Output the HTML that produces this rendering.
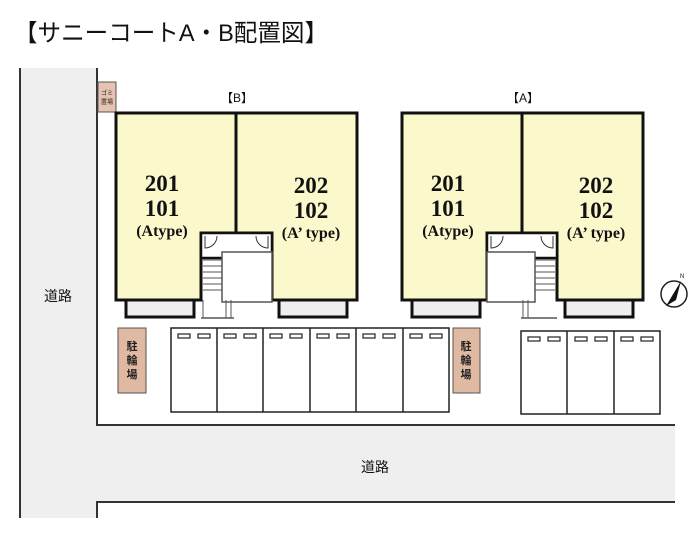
<!DOCTYPE html>
<html><head><meta charset="utf-8"><style>
html,body{margin:0;padding:0;background:#fff;}
svg{display:block;}
</style></head><body>
<svg width="700" height="540" viewBox="0 0 700 540" xmlns="http://www.w3.org/2000/svg" font-family="'Liberation Sans','Noto Sans CJK JP',sans-serif">
<text x="14" y="41" font-size="24" textLength="314" lengthAdjust="spacingAndGlyphs" fill="#111">【サニーコートA・B配置図】</text>
<rect x="20" y="68" width="77" height="450" fill="#efefef"/>
<rect x="97" y="425" width="578" height="77" fill="#efefef"/>
<g stroke="#333" stroke-width="2" fill="none">
<line x1="20" y1="68" x2="20" y2="518"/>
<line x1="97" y1="68" x2="97" y2="426"/>
<line x1="97" y1="501" x2="97" y2="518"/>
<line x1="96" y1="425" x2="675" y2="425"/>
<line x1="96" y1="502" x2="675" y2="502"/>
</g>
<text x="58" y="301" font-size="14" text-anchor="middle" fill="#111">道路</text>
<text x="375" y="472" font-size="14" text-anchor="middle" fill="#111">道路</text>
<rect x="98" y="82" width="18" height="30" fill="#e6c3b0" stroke="#555" stroke-width="1"/>
<text x="107" y="95" font-size="6" text-anchor="middle" fill="#222">ゴミ</text>
<text x="107" y="104" font-size="6" text-anchor="middle" fill="#222">置場</text>
<text x="237" y="102" font-size="12" text-anchor="middle" fill="#111">【B】</text>
<text x="523" y="102" font-size="12" text-anchor="middle" fill="#111">【A】</text>

<g>
<path d="M116,113 H236 V233 H201 V300 H116 Z" fill="#fbf9cc" stroke="#111" stroke-width="3"/>
<path d="M236,113 H357 V300 H272 V233 H236 Z" fill="#fbf9cc" stroke="#111" stroke-width="3"/>
<rect x="126" y="300" width="68" height="17" fill="#eee" stroke="#111" stroke-width="3"/>
<rect x="279" y="300" width="68" height="17" fill="#eee" stroke="#111" stroke-width="3"/>
<rect x="201" y="233" width="71" height="25" fill="#fff" stroke="#111" stroke-width="2.5"/>
<path d="M205,236 v12 a12,12 0 0 0 12,-12" fill="none" stroke="#333" stroke-width="1"/>
<path d="M268,236 v12 a12,12 0 0 1 -12,-12" fill="none" stroke="#333" stroke-width="1"/>
<rect x="222" y="252" width="50" height="50" fill="#fff" stroke="#555" stroke-width="1.5"/>
<g stroke="#555" stroke-width="1">
<line x1="203" y1="260" x2="222" y2="260"/><line x1="203" y1="266" x2="222" y2="266"/>
<line x1="203" y1="272" x2="222" y2="272"/><line x1="203" y1="278" x2="222" y2="278"/>
<line x1="203" y1="284" x2="222" y2="284"/><line x1="203" y1="290" x2="222" y2="290"/>
<line x1="201" y1="318" x2="234" y2="318" stroke-width="1.5"/>
<line x1="203" y1="300" x2="203" y2="318"/><line x1="226" y1="300" x2="226" y2="318"/><line x1="231" y1="300" x2="231" y2="318"/>
</g>
<g font-family="'Liberation Serif',serif" font-weight="bold" fill="#111" text-anchor="middle">
<text x="162" y="191" font-size="23">201</text>
<text x="162" y="216" font-size="23">101</text>
<text x="162" y="236" font-size="16">(Atype)</text>
<text x="311" y="193" font-size="23">202</text>
<text x="311" y="218" font-size="23">102</text>
<text x="311" y="238" font-size="16">(A’ type)</text>
</g>
</g>

<g>
<path d="M402,113 H522 V233 H487 V300 H402 Z" fill="#fbf9cc" stroke="#111" stroke-width="3"/>
<path d="M522,113 H643 V300 H557 V233 H522 Z" fill="#fbf9cc" stroke="#111" stroke-width="3"/>
<rect x="412" y="300" width="68" height="17" fill="#eee" stroke="#111" stroke-width="3"/>
<rect x="565" y="300" width="68" height="17" fill="#eee" stroke="#111" stroke-width="3"/>
<rect x="487" y="233" width="70" height="25" fill="#fff" stroke="#111" stroke-width="2.5"/>
<path d="M491,236 v12 a12,12 0 0 0 12,-12" fill="none" stroke="#333" stroke-width="1"/>
<path d="M553,236 v12 a12,12 0 0 1 -12,-12" fill="none" stroke="#333" stroke-width="1"/>
<rect x="487" y="252" width="48" height="50" fill="#fff" stroke="#555" stroke-width="1.5"/>
<g stroke="#555" stroke-width="1">
<line x1="535" y1="260" x2="555" y2="260"/><line x1="535" y1="266" x2="555" y2="266"/>
<line x1="535" y1="272" x2="555" y2="272"/><line x1="535" y1="278" x2="555" y2="278"/>
<line x1="535" y1="284" x2="555" y2="284"/><line x1="535" y1="290" x2="555" y2="290"/>
<line x1="521" y1="318" x2="557" y2="318" stroke-width="1.5"/>
<line x1="523" y1="300" x2="523" y2="318"/><line x1="528" y1="300" x2="528" y2="318"/>
</g>
<g font-family="'Liberation Serif',serif" font-weight="bold" fill="#111" text-anchor="middle">
<text x="448" y="191" font-size="23">201</text>
<text x="448" y="216" font-size="23">101</text>
<text x="448" y="236" font-size="16">(Atype)</text>
<text x="596" y="193" font-size="23">202</text>
<text x="596" y="218" font-size="23">102</text>
<text x="596" y="238" font-size="16">(A’ type)</text>
</g>
</g>

<circle cx="674" cy="294" r="13" fill="#fff" stroke="#222" stroke-width="1.5"/>
<path d="M681,281 L666,306 L676,300 Z" fill="#111"/>
<text x="680" y="278" font-size="6" fill="#111">N</text>

<rect x="118" y="328" width="28" height="65" fill="#e0b9a3" stroke="#555" stroke-width="1"/>
<rect x="453" y="328" width="27" height="65" fill="#e0b9a3" stroke="#555" stroke-width="1"/>
<g font-size="11" text-anchor="middle" fill="#222" font-weight="bold">
<text x="132" y="350">駐</text><text x="132" y="364">輪</text><text x="132" y="378">場</text>
<text x="466" y="350">駐</text><text x="466" y="364">輪</text><text x="466" y="378">場</text>
</g>

<g stroke="#222" stroke-width="1.5" fill="#fff">
<rect x="171" y="328" width="278" height="84"/>
<line x1="217" y1="328" x2="217" y2="412"/><line x1="263" y1="328" x2="263" y2="412"/>
<line x1="310" y1="328" x2="310" y2="412"/><line x1="356" y1="328" x2="356" y2="412"/>
<line x1="403" y1="328" x2="403" y2="412"/>
<rect x="521" y="331" width="139" height="83"/>
<line x1="567" y1="331" x2="567" y2="414"/><line x1="614" y1="331" x2="614" y2="414"/>
</g>
<g fill="#fff" stroke="#333" stroke-width="1.3">
<rect x="178" y="334" width="12" height="4"/><rect x="198" y="334" width="12" height="4"/>
<rect x="224" y="334" width="12" height="4"/><rect x="244" y="334" width="12" height="4"/>
<rect x="270" y="334" width="12" height="4"/><rect x="290" y="334" width="12" height="4"/>
<rect x="317" y="334" width="12" height="4"/><rect x="337" y="334" width="12" height="4"/>
<rect x="363" y="334" width="12" height="4"/><rect x="383" y="334" width="12" height="4"/>
<rect x="410" y="334" width="12" height="4"/><rect x="430" y="334" width="12" height="4"/>
<rect x="528" y="337" width="12" height="4"/><rect x="548" y="337" width="12" height="4"/>
<rect x="575" y="337" width="12" height="4"/><rect x="595" y="337" width="12" height="4"/>
<rect x="621" y="337" width="12" height="4"/><rect x="641" y="337" width="12" height="4"/>
</g>
</svg>
</body></html>
